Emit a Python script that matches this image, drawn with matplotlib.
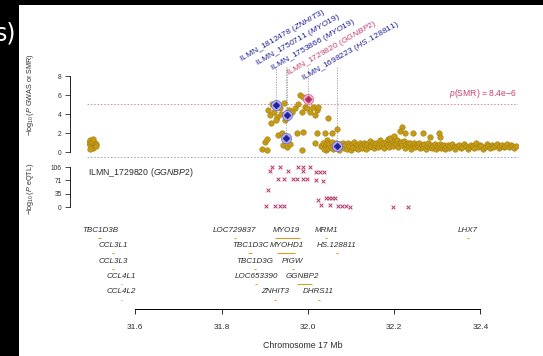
import matplotlib
matplotlib.use("Agg")
import matplotlib.pyplot as plt
from matplotlib.patches import Rectangle

plt.rcParams["font.family"] = ["Liberation Sans", "DejaVu Sans"]
plt.rcParams["mathtext.fontset"] = "custom"
plt.rcParams["mathtext.rm"] = "Liberation Sans"
plt.rcParams["mathtext.it"] = "Liberation Sans:italic"

# ---------------- data ----------------
# GWAS SNPs: position (Mb) and -log10(P)
gwas_pos = [
    31.491, 31.494, 31.497, 31.500, 31.503, 31.506, 31.508, 31.510, 31.495, 31.502,
    31.893, 31.900, 31.905, 31.905, 31.907, 31.912, 31.917, 31.921, 31.928, 31.930,
    31.935, 31.940, 31.942, 31.944, 31.947, 31.951, 31.956, 31.958, 31.970, 31.975,
    31.977, 31.981, 31.988, 31.986, 31.988, 31.986, 31.993, 31.998, 32.012, 32.016,
    32.016, 32.021, 32.023, 32.021, 32.039, 32.044, 32.042, 32.046, 32.056, 32.067,
    31.926, 31.949, 31.963, 31.937, 32.005, 31.914,
    32.030, 32.034, 32.037, 32.041, 32.044, 32.047, 32.050, 32.053, 32.056, 32.059,
    32.062, 32.066, 32.069, 32.072, 32.075, 32.078, 32.081, 32.084, 32.087, 32.090,
    32.093, 32.096, 32.099, 32.102, 32.105, 32.108, 32.111, 32.114, 32.117, 32.120,
    32.123, 32.126, 32.129, 32.132, 32.135, 32.138, 32.141, 32.144, 32.147, 32.150,
    32.153, 32.156, 32.159, 32.162, 32.165, 32.168, 32.171, 32.174, 32.177, 32.180,
    32.183, 32.186, 32.189, 32.192, 32.195, 32.198, 32.201, 32.204, 32.207, 32.210,
    32.213, 32.216, 32.219, 32.222, 32.225, 32.228, 32.231, 32.234, 32.237, 32.240,
    32.243, 32.246, 32.249, 32.252, 32.255, 32.258, 32.261, 32.264, 32.267, 32.270,
    32.273, 32.276, 32.279, 32.282, 32.285, 32.288, 32.291, 32.294, 32.297, 32.300,
    32.303, 32.306, 32.309, 32.312, 32.315, 32.318, 32.321, 32.324, 32.327, 32.330,
    32.334, 32.338, 32.342, 32.346, 32.350, 32.354, 32.358, 32.362, 32.366, 32.370,
    32.374, 32.378, 32.382, 32.386, 32.390, 32.394, 32.398, 32.402, 32.406, 32.410,
    32.414, 32.418, 32.422, 32.426, 32.430, 32.434, 32.438, 32.442, 32.446, 32.450,
    32.454, 32.458, 32.462, 32.466, 32.470, 32.474, 32.478, 32.482,
    32.218, 32.213, 32.225, 32.243, 32.266, 32.282, 32.303, 32.306, 32.190, 32.200,
]
gwas_logp = [
    0.9, 1.3, 0.6, 1.1, 0.4, 1.0, 0.8, 0.6, 0.3, 1.4,
    0.3, 1.05, 0.2, 1.35, 4.4, 3.9, 5.05, 4.2, 3.7, 1.8,
    4.6, 2.0, 0.75, 5.15, 3.35, 0.5, 4.4, 0.85, 4.6, 2.0,
    5.1, 6.0, 5.8, 4.2, 2.1, 0.2, 4.7, 4.6, 4.7, 3.9,
    0.95, 4.4, 4.7, 2.0, 2.0, 1.25, 0.2, 3.6, 2.0, 2.4,
    3.4, 4.1, 4.2, 4.0, 4.2, 3.05,
    0.6, 0.9, 0.3, 0.7, 1.0, 0.4, 0.8, 0.5, 1.1, 0.3,
    0.7, 0.9, 0.5, 0.2, 0.8, 0.6, 1.0, 0.4, 0.7, 0.3,
    0.9, 0.6, 0.2, 0.8, 0.5, 1.1, 0.4, 0.7, 0.3, 0.9,
    0.6, 0.4, 1.0, 0.7, 0.3, 0.8, 0.5, 1.2, 0.6, 0.9,
    0.4, 0.7, 1.0, 0.5, 0.8, 1.3, 0.6, 0.9, 0.4, 1.1,
    0.7, 1.4, 0.5, 0.9, 1.2, 0.6, 1.0, 0.8, 1.3, 0.5,
    0.9, 1.1, 0.7, 1.2, 0.4, 0.8, 1.0, 0.6, 0.9, 0.3,
    0.7, 1.0, 0.5, 0.8, 0.6, 0.9, 0.4, 0.7, 0.5, 0.8,
    0.3, 0.6, 0.9, 0.5, 0.7, 0.4, 0.6, 0.8, 0.3, 0.6,
    0.5, 0.8, 0.4, 0.6, 0.7, 0.3, 0.5, 0.7, 0.4, 0.6,
    0.8, 0.5, 0.3, 0.6, 0.7, 0.4, 0.5, 0.8, 0.6, 0.3,
    0.5, 0.7, 0.6, 0.4, 0.9, 0.5, 0.7, 0.6, 0.3, 0.5,
    0.8, 0.6, 0.4, 0.7, 0.5, 0.6, 0.8, 0.4, 0.6, 0.7,
    0.5, 0.6, 0.8, 0.5, 0.7, 0.6, 0.4, 0.6,
    2.6, 2.2, 2.0, 2.0, 2.0, 1.6, 2.0, 1.6, 1.5, 1.7,
]

# SMR probes
probe_ids = ["ILMN_1812478", "ILMN_1750711", "ILMN_1753866", "ILMN_1729820", "ILMN_1698223"]
probe_genes = ["ZNHIT3", "MYO19", "MYO19", "GGNBP2", "HS.128811"]
probe_pos = [31.926, 31.951, 31.949, 32.000, 32.067]
probe_logp = [4.95, 3.9, 1.47, 5.58, 0.63]
probe_hit = [False, False, False, True, False]
# label anchors (Mb, -log10 P scale)
label_x = [31.845, 31.881, 31.917, 31.953, 31.989]
label_y = [9.55, 9.05, 8.55, 8.05, 7.55]

smr_threshold = 8.4e-6
smr_threshold_logp = 5.076

# eQTL for ILMN_1729820
eqtl_pos = [
    31.917, 31.935, 31.977, 31.988, 32.005, 31.912, 31.954, 31.988, 32.019, 32.028,
    32.037, 31.930, 31.944, 31.965, 31.975, 31.988, 31.998, 32.019, 32.035, 31.907,
    31.903, 31.924, 31.935, 31.944, 32.023, 32.042, 32.049, 32.056, 32.063, 32.030,
    32.051, 32.070, 32.079, 32.088, 32.097, 32.197, 32.232,
]
eqtl_logp = [
    106, 106, 106, 106, 106, 95, 95, 95, 93, 93,
    93, 74, 74, 74, 74, 74, 74, 72, 69, 45,
    3, 3, 3, 3, 18, 24, 24, 24, 24, 5,
    5, 3, 3, 3, 1, 1, 1,
]
eqtl_ticks = [0, 35, 71, 106]

# gene track: name, start, end (Mb), row
gene_names = ["TBC1D3B", "CCL3L1", "CCL3L3", "CCL4L1", "CCL4L2",
              "LOC729837", "MYO19", "MRM1", "LHX7",
              "TBC1D3C", "MYOHD1", "HS.128811",
              "TBC1D3G", "PIGW",
              "LOC653390", "GGNBP2",
              "ZNHIT3", "DHRS11"]
gene_start = [31.514, 31.546, 31.546, 31.566, 31.566,
              31.829, 31.924, 32.040, 32.368,
              31.862, 31.928, 32.066,
              31.874, 31.963,
              31.877, 31.975,
              31.922, 32.023]
gene_end = [31.520, 31.550, 31.550, 31.569, 31.569,
            31.833, 31.981, 32.045, 32.374,
            31.870, 31.970, 32.069,
            31.880, 31.968,
            31.883, 32.009,
            31.927, 32.028]
gene_row = [0, 1, 2, 3, 4,
            0, 0, 0, 0,
            1, 1, 1,
            2, 2,
            3, 3,
            4, 4]
gene_label_x = [31.518, 31.548, 31.548, 31.567, 31.567,
                31.831, 31.949, 32.042, 32.371,
                31.866, 31.952, 32.067,
                31.877, 31.965,
                31.880, 31.988,
                31.924, 32.025]

x_ticks = [31.6, 31.8, 32.0, 32.2, 32.4]
gwas_ticks = [0, 2, 4, 6, 8]

# ---------------- styles ----------------
GOLD = "#C49A16"
GOLD_EDGE = "#A27F0C"
NAVY = "#22229A"
PINK = "#C8406E"
GREY_TXT = "#2E2E2E"

W, H = 543, 356
fig = plt.figure(figsize=(W / 100, H / 100), dpi=100, facecolor="black")
fig.patches.append(Rectangle((19 / W, 0), 1 - 19 / W, 1 - 5 / H,
                             transform=fig.transFigure, facecolor="white",
                             edgecolor="none", zorder=-10))
fig.text(16 / W, 1 - 33 / H, "s)", color="white", fontsize=17,
         ha="right", va="center", family="DejaVu Sans")


def px_box(x0, y0, x1, y1):
    return [x0 / W, 1 - y1 / H, (x1 - x0) / W, (y1 - y0) / H]


XLIM = (31.488, 32.487)

# ---- top panel: GWAS and SMR ----
ax = fig.add_axes(px_box(87, 61.75, 518, 156.75))
ax.set_zorder(2)
ax.set_xlim(*XLIM)
ax.set_ylim(-0.5, 9.5)
ax.patch.set_alpha(0)
for s in ("top", "right", "bottom"):
    ax.spines[s].set_visible(False)
ax.spines["left"].set_position(("outward", 12.2))
ax.spines["left"].set_bounds(0, 8)
ax.spines["left"].set_linewidth(0.6)
ax.set_xticks([])
ax.set_yticks(gwas_ticks)
ax.set_yticklabels([str(t) for t in gwas_ticks])
ax.tick_params(axis="y", length=3.5, width=0.6, pad=2.5, labelsize=4.8,
               colors=GREY_TXT)

ax.axhline(smr_threshold_logp, color="#E07A96", lw=0.6, ls=(0, (2, 2)), zorder=1)
ax.axhline(-0.55, color="#9AA0B0", lw=0.6, ls=(0, (2, 2)), zorder=1, clip_on=False)
ax.text(XLIM[1] - 0.003, smr_threshold_logp + 0.4,
        "$p$(SMR) = 8.4e\u22126", ha="right", va="bottom", color=PINK,
        fontsize=6.2)

ax.scatter(gwas_pos, gwas_logp, s=16, c=GOLD, edgecolors=GOLD_EDGE,
           linewidths=0.35, zorder=2)

for i in range(len(probe_ids)):
    ax.plot([probe_pos[i], probe_pos[i]], [probe_logp[i], 9.0], color="#9A9A9A",
            lw=0.6, ls=(0, (1.5, 1.5)), zorder=1, clip_on=False)
    halo = "#F2AECB" if probe_hit[i] else "#B4AEEC"
    halo_e = "#D86A98" if probe_hit[i] else "#7068D0"
    core = "#B02A62" if probe_hit[i] else NAVY
    ax.scatter([probe_pos[i]], [probe_logp[i]], s=55, facecolors=halo,
               edgecolors=halo_e, linewidths=0.5, zorder=3)
    ax.scatter([probe_pos[i]], [probe_logp[i]], s=13, marker="D",
               facecolors=core, edgecolors=core, linewidths=0.3, zorder=4)
    col = PINK if probe_hit[i] else NAVY
    ax.text(label_x[i], label_y[i],
            probe_ids[i] + " ($\\mathit{" + probe_genes[i] + "}$)",
            rotation=30, rotation_mode="anchor", ha="left", va="baseline",
            color=col, fontsize=6.1)

fig.text(30 / W, 1 - 95 / H, "$-\\log_{10}(P$ GWAS or SMR)", rotation=90,
         ha="center", va="center", fontsize=5.2, color=GREY_TXT)

# ---- eQTL panel ----
ax2 = fig.add_axes(px_box(87, 160, 518, 212))
ax2.set_zorder(2)
ax2.set_xlim(*XLIM)
ax2.set_ylim(-13.25, 124.55)
ax2.patch.set_alpha(0)
for s in ("top", "right", "bottom"):
    ax2.spines[s].set_visible(False)
ax2.spines["left"].set_position(("outward", 12.2))
ax2.spines["left"].set_bounds(0, 106)
ax2.spines["left"].set_linewidth(0.6)
ax2.set_xticks([])
ax2.set_yticks(eqtl_ticks)
ax2.set_yticklabels([str(t) for t in eqtl_ticks])
ax2.tick_params(axis="y", length=3.5, width=0.6, pad=2.5, labelsize=4.8,
                colors=GREY_TXT)
ax2.scatter(eqtl_pos, eqtl_logp, s=7, marker="x", c="#B8336A",
            linewidths=0.7, zorder=2)
ax2.text(31.490, 92.7, "ILMN_1729820 ($\\mathit{GGNBP2}$)", ha="left",
         va="center", fontsize=6.3, color=GREY_TXT)
fig.text(30 / W, 1 - 189 / H, "$-\\log_{10}(P$ eQTL)", rotation=90,
         ha="center", va="center", fontsize=5.2, color=GREY_TXT)

# ---- gene track and x axis ----
ax3 = fig.add_axes(px_box(87, 220, 518, 309))
ax3.set_zorder(2)
ax3.set_xlim(*XLIM)
ax3.set_ylim(5.1, -0.65)
ax3.patch.set_alpha(0)
for s in ("top", "right", "left"):
    ax3.spines[s].set_visible(False)
ax3.spines["bottom"].set_bounds(x_ticks[0], x_ticks[-1])
ax3.spines["bottom"].set_linewidth(0.7)
ax3.set_yticks([])
ax3.set_xticks(x_ticks)
ax3.set_xticklabels([f"{t:.1f}" for t in x_ticks])
ax3.tick_params(axis="x", length=3.6, width=0.7, pad=7.5, labelsize=6,
                colors=GREY_TXT)
ax3.set_xlabel("Chromosome 17 Mb", fontsize=6.3, color=GREY_TXT, labelpad=7)

for i, name in enumerate(gene_names):
    r = gene_row[i]
    ax3.text(gene_label_x[i], r, name, ha="center", va="center",
             fontsize=5.8, style="italic", color=GREY_TXT)
    ax3.plot([gene_start[i], gene_end[i]], [r + 0.5, r + 0.5], color="#D4A02A",
             lw=0.8, solid_capstyle="butt")

fig.savefig("out.png", dpi=100, facecolor=fig.get_facecolor())
